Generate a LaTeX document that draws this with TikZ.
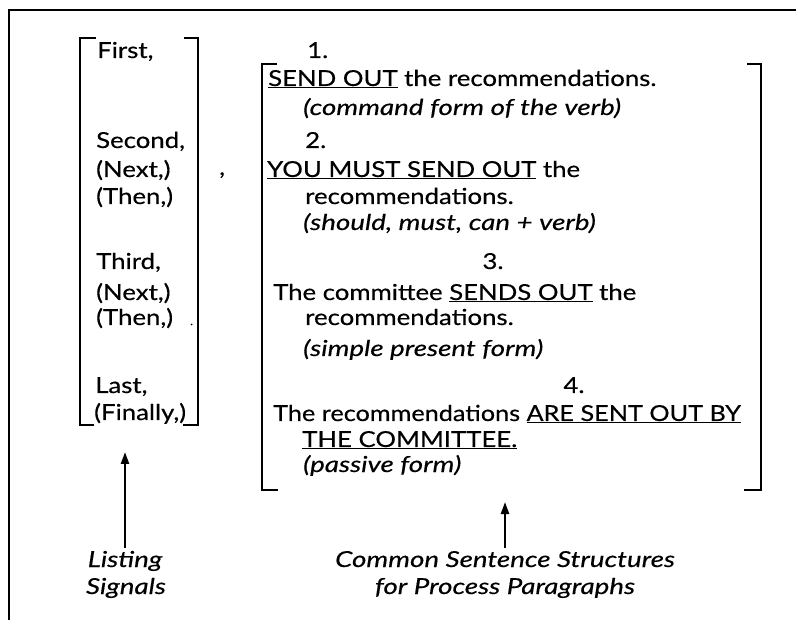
\documentclass[tikz,border=0pt]{standalone}
\usepackage{graphicx}
\usepackage{fontspec}
\setmainfont{Lato}[FakeStretch=1.17, FakeBold=0.4]
\newfontfamily\itfont{Lato}[FakeStretch=1.26, FakeBold=0.4]
\usetikzlibrary{arrows.meta}
\newcommand\myul[1]{\underline{#1}}
\begin{document}
\begin{tikzpicture}[x=1pt,y=-1pt,
  txt/.style={anchor=base west, inner sep=0pt, font=\fontsize{22}{26}\selectfont},
  itx/.style={anchor=base west, inner sep=0pt, font=\fontsize{22}{26}\selectfont\itfont\itshape},
  num/.style={anchor=base, inner sep=0pt, font=\fontsize{22}{26}\selectfont},
  lab/.style={anchor=base, inner sep=3pt, font=\fontsize{22}{26}\selectfont\itfont\itshape},
  brk/.style={line width=2.4pt},
  frame/.style={line width=1.8pt},
  arr/.style={line width=2.4pt, -{Triangle[length=12pt,width=8pt]}}]
\useasboundingbox (0,0) rectangle (796,620);
\fill[white] (0,0) rectangle (796,620);
% frame
\draw[frame] (796,10) -- (9,10) -- (9,620);
% left bracket
\draw[brk] (96,38) -- (80,38) -- (80,425) -- (94,425);
\draw[brk] (184,38) -- (198,38) -- (198,425) -- (183,425);
% big bracket
\draw[brk] (277,64) -- (262,64) -- (262,490) -- (278,490);
\draw[brk] (747,64) -- (761,64) -- (761,490) -- (744,490);
% left column
\node[txt] (first) at (97,58) {First,};
\node[txt] (second) at (96,148) {Second,};
\node[txt] (next1) at (96,177) {(Next,)};
\node[txt] (then1) at (96,204) {(Then,)};
\node[txt] (third) at (96,269) {Third,};
\node[txt] (next2) at (96,300) {(Next,)};
\node[txt] (then2) at (96,325) {(Then,)};
\node[txt] (last) at (95,393) {Last,};
\node[txt] (finally) at (94,420) {(Finally,)};
\node[txt] (tick) at (219,175) {,};
\node[txt, font=\fontsize{10}{12}\selectfont] (speck) at (190,325) {.};
% right column
\node[txt] (n1) at (307,58) {1.};
\node[txt] (s1a) at (268,86) {\myul{SEND OUT} the recommendations.};
\node[itx] (s1b) at (303,115) {(command form of the verb)};
\node[txt] (n2) at (305,148) {2.};
\node[txt] (s2a) at (267,177) {\myul{YOU MUST SEND OUT} the};
\node[txt] (s2b) at (305,204) {recommendations.};
\node[itx] (s2c) at (303,230) {(should, must, can + verb)};
\node[num] (n3) at (493,269) {3.};
\node[txt] (s3a) at (273,300) {The committee \myul{SENDS OUT} the};
\node[txt] (s3b) at (305,325) {recommendations.};
\node[itx] (s3c) at (303,356) {(simple present form)};
\node[num] (n4) at (574,393) {4.};
\node[txt] (s4a) at (273,421) {\scalebox{0.98}[1]{The recommendations \myul{ARE SENT OUT BY}}};
\node[txt] (s4b) at (302,447) {\myul{THE COMMITTEE.}};
\node[itx] (s4c) at (303,472) {(passive form)};
% labels
\node[lab] (lst1) at (125,567) {Listing};
\node[lab] (lst2) at (126,594) {Signals};
\node[lab] (cs1) at (505,567) {Common Sentence Structures};
\node[lab] (cs2) at (505,594) {for Process Paragraphs};
\coordinate (lsttip) at (125,452);
\coordinate (cstip) at (505,502);
\draw[arr] (lst1.north) -- (lsttip);
\draw[arr] (cs1.north) -- (cstip);
\end{tikzpicture}
\end{document}
